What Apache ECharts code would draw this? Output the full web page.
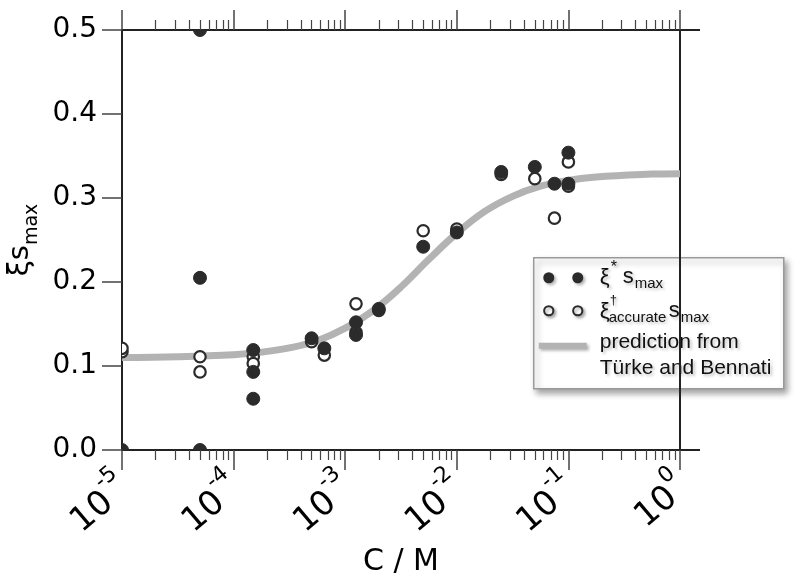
<!DOCTYPE html>
<html>
<head>
<meta charset="utf-8">
<script src="https://cdn.jsdelivr.net/npm/echarts@6/dist/echarts.min.js"></script>
<style>html,body{margin:0;padding:0;background:#fff;}#chart{width:800px;height:586px;}</style>
</head>
<body>
<div id="chart"></div>
<script>
// ξ* s_max (filled markers)
const starC   = [1e-5, 5e-5, 5e-5, 5e-5, 1.5e-4, 1.5e-4, 1.5e-4, 5e-4, 6.5e-4, 1.25e-3, 1.25e-3, 2e-3, 5e-3, 1e-2, 2.5e-2, 5e-2, 7.5e-2, 1e-1, 1e-1];
const starVal = [0.0, 0.5, 0.205, 0.0, 0.119, 0.093, 0.061, 0.133, 0.121, 0.152, 0.137, 0.168, 0.242, 0.259, 0.331, 0.337, 0.317, 0.354, 0.317];
// ξ†accurate s_max (open markers)
const accC    = [1e-5, 1e-5, 5e-5, 5e-5, 1.5e-4, 1.5e-4, 5e-4, 6.5e-4, 1.25e-3, 1.25e-3, 2e-3, 5e-3, 1e-2, 2.5e-2, 5e-2, 7.5e-2, 1e-1, 1e-1];
const accVal  = [0.117, 0.121, 0.111, 0.093, 0.111, 0.103, 0.129, 0.113, 0.174, 0.140, 0.166, 0.261, 0.263, 0.328, 0.323, 0.276, 0.343, 0.314];
// prediction from Türke and Bennati
const predC   = [1e-5, 3.16e-5, 1e-4, 1.78e-4, 3.16e-4, 5.62e-4, 1e-3, 1.78e-3, 3.16e-3, 5.62e-3, 1e-2, 1.78e-2, 3.16e-2, 5.62e-2, 1e-1, 1.78e-1, 3.16e-1, 5.62e-1, 1];
const predVal = [0.110, 0.111, 0.1135, 0.1165, 0.1215, 0.130, 0.145, 0.166, 0.194, 0.227, 0.258, 0.284, 0.302, 0.314, 0.321, 0.325, 0.327, 0.3285, 0.329];
// axis ticks
const yTickValues = [0, 0.1, 0.2, 0.3, 0.4, 0.5];
const xDecades = [1e-5, 1e-4, 1e-3, 1e-2, 1e-1, 1];

const minorTicks = [];
for (let k = 0; k < xDecades.length - 1; k++) {
  for (let m = 2; m <= 9; m++) minorTicks.push(+(m * xDecades[k]).toPrecision(3));
}

const DARK = '#2b2b2b';
const GREY = '#b3b3b3';
const AX = '#222';

function pairs(xs, ys) { return xs.map((x, i) => [x, ys[i]]); }

function circleRenderer(filled) {
  return function (params, api) {
    const p = api.coord([api.value(0), api.value(1)]);
    return {
      type: 'circle',
      shape: { cx: p[0], cy: p[1], r: filled ? 6.5 : 5.7 },
      style: filled ? { fill: DARK, stroke: DARK, lineWidth: 1 }
                    : { fill: '#fff', stroke: DARK, lineWidth: 2.2 }
    };
  };
}

const chart = echarts.init(document.getElementById('chart'), null, { renderer: 'canvas' });

const baseX = {
  type: 'log', logBase: 10, min: 1e-5, max: 1,
  splitLine: { show: false }, axisLabel: { show: false },
  axisLine: { show: false, onZero: false }, axisTick: { show: false }
};
const gridRect = { left: 122, top: 30, width: 558, height: 420, containLabel: false, outerBoundsMode: 'none' };

const legendText = { fontFamily: 'Liberation Sans', fill: '#111',
  textShadowColor: 'rgba(0,0,0,0.25)', textShadowBlur: 3, textShadowOffsetX: 2, textShadowOffsetY: 2 };
const legShadow = { shadowColor: 'rgba(0,0,0,0.3)', shadowBlur: 3, shadowOffsetX: 2, shadowOffsetY: 2 };

const option = {
  backgroundColor: '#fff',
  animation: false,
  grid: [Object.assign({}, gridRect), Object.assign({}, gridRect)],
  xAxis: [
    Object.assign({}, baseX, {
      gridIndex: 0, position: 'bottom',
      axisLine: { show: true, onZero: false, lineStyle: { color: AX, width: 2 } },
      axisTick: { show: true, inside: false, length: 20, lineStyle: { color: '#444', width: 1.5 } },
      axisLabel: {
        show: true, rotate: 40, margin: 30,
        formatter: function (v) { return '{b|10}{s|' + Math.round(Math.log10(v)) + '}'; },
        rich: {
          b: { fontFamily: 'DejaVu Sans', fontSize: 34, color: '#000', lineHeight: 46, verticalAlign: 'bottom' },
          s: { fontFamily: 'DejaVu Sans', fontSize: 22, color: '#000', lineHeight: 22, verticalAlign: 'top' }
        }
      },
      name: 'C / M', nameLocation: 'middle', nameGap: 97,
      nameTextStyle: { fontFamily: 'DejaVu Sans', fontSize: 30, color: '#000' }
    }),
    Object.assign({}, baseX, {
      gridIndex: 0, position: 'bottom',
      axisTick: { show: true, inside: false, length: 10, customValues: minorTicks, lineStyle: { color: '#444', width: 1.2 } }
    }),
    Object.assign({}, baseX, {
      gridIndex: 1, position: 'top',
      axisLine: { show: true, onZero: false, lineStyle: { color: AX, width: 2 } },
      axisTick: { show: true, inside: false, length: 20, lineStyle: { color: '#444', width: 1.5 } }
    }),
    Object.assign({}, baseX, {
      gridIndex: 1, position: 'top',
      axisTick: { show: true, inside: false, length: 10, customValues: minorTicks, lineStyle: { color: '#444', width: 1.2 } }
    })
  ],
  yAxis: [
    {
      gridIndex: 0, type: 'value', min: 0, max: 0.5, interval: 0.1, position: 'left',
      splitLine: { show: false },
      axisLine: { show: true, onZero: false, lineStyle: { color: AX, width: 2 } },
      axisTick: { show: true, inside: false, length: 20, lineStyle: { color: '#444', width: 1.5 } },
      axisLabel: { margin: 25, fontFamily: 'DejaVu Sans', fontSize: 28, color: '#000',
        formatter: function (v) { return v.toFixed(1); } },
      name: '{a|ξs}{b|max}', nameLocation: 'middle', nameRotate: 90, nameGap: 80,
      nameTextStyle: {
        rich: {
          a: { fontFamily: 'DejaVu Sans', fontSize: 29, color: '#000', lineHeight: 36, verticalAlign: 'top' },
          b: { fontFamily: 'DejaVu Sans', fontSize: 19, color: '#000', lineHeight: 19, verticalAlign: 'bottom' }
        }
      }
    },
    {
      gridIndex: 1, type: 'value', min: 0, max: 0.5, position: 'right',
      splitLine: { show: false }, axisLabel: { show: false },
      axisLine: { show: true, onZero: false, lineStyle: { color: AX, width: 2 } },
      axisTick: { show: true, inside: false, length: 20, customValues: [0, 0.5], lineStyle: { color: AX, width: 2 } }
    }
  ],
  series: [
    {
      name: 'prediction from Türke and Bennati', type: 'line', xAxisIndex: 0, yAxisIndex: 0,
      data: pairs(predC, predVal), smooth: 0.4, symbol: 'none', z: 1,
      lineStyle: { color: GREY, width: 7 }
    },
    {
      name: 'ξ†accurate smax', type: 'custom', xAxisIndex: 0, yAxisIndex: 0, clip: true, z: 3,
      data: pairs(accC, accVal), renderItem: circleRenderer(false)
    },
    {
      name: 'ξ* smax', type: 'custom', xAxisIndex: 0, yAxisIndex: 0, clip: true, z: 4,
      data: pairs(starC, starVal), renderItem: circleRenderer(true)
    }
  ],
  graphic: [
    {
      type: 'group', left: 533, top: 257, z: 100,
      children: [
        { type: 'rect', shape: { x: 0, y: 0, width: 250, height: 131 },
          style: { fill: '#fff', stroke: '#9a9a9a', lineWidth: 1.5,
            shadowColor: 'rgba(0,0,0,0.35)', shadowBlur: 6, shadowOffsetX: 3, shadowOffsetY: 4 } },
        { type: 'circle', shape: { cx: 15, cy: 20, r: 5.5 }, style: Object.assign({ fill: DARK }, legShadow) },
        { type: 'circle', shape: { cx: 44, cy: 20, r: 5.5 }, style: Object.assign({ fill: DARK }, legShadow) },
        { type: 'circle', shape: { cx: 15, cy: 53, r: 4.6 }, style: Object.assign({ fill: '#fff', stroke: DARK, lineWidth: 2 }, legShadow) },
        { type: 'circle', shape: { cx: 44, cy: 53, r: 4.6 }, style: Object.assign({ fill: '#fff', stroke: DARK, lineWidth: 2 }, legShadow) },
        { type: 'line', shape: { x1: 5, y1: 88, x2: 53, y2: 88 }, style: Object.assign({ stroke: GREY, lineWidth: 6 }, legShadow) },
        // row 1: ξ* s_max
        { type: 'text', x: 66, y: 20, style: Object.assign({ text: 'ξ', fontSize: 22, verticalAlign: 'middle' }, legendText) },
        { type: 'text', x: 77, y: 10, style: Object.assign({ text: '*', fontSize: 16, verticalAlign: 'middle' }, legendText) },
        { type: 'text', x: 89, y: 19, style: Object.assign({ text: 's', fontSize: 22, verticalAlign: 'middle' }, legendText) },
        { type: 'text', x: 101, y: 26, style: Object.assign({ text: 'max', fontSize: 15, verticalAlign: 'middle' }, legendText) },
        // row 2: ξ†accurate s_max
        { type: 'text', x: 66, y: 54, style: Object.assign({ text: 'ξ', fontSize: 22, verticalAlign: 'middle' }, legendText) },
        { type: 'text', x: 76, y: 43, style: Object.assign({ text: '†', fontSize: 13, verticalAlign: 'middle' }, legendText) },
        { type: 'text', x: 75, y: 60, style: Object.assign({ text: 'accurate', fontSize: 15, verticalAlign: 'middle' }, legendText) },
        { type: 'text', x: 135, y: 53, style: Object.assign({ text: 's', fontSize: 22, verticalAlign: 'middle' }, legendText) },
        { type: 'text', x: 147, y: 60, style: Object.assign({ text: 'max', fontSize: 15, verticalAlign: 'middle' }, legendText) },
        // row 3
        { type: 'text', x: 66, y: 84, style: Object.assign({ text: 'prediction from', fontSize: 21, verticalAlign: 'middle' }, legendText) },
        { type: 'text', x: 66, y: 110, style: Object.assign({ text: 'Türke and Bennati', fontSize: 21, verticalAlign: 'middle' }, legendText) }
      ]
    }
  ]
};

chart.setOption(option);
</script>
</body>
</html>
